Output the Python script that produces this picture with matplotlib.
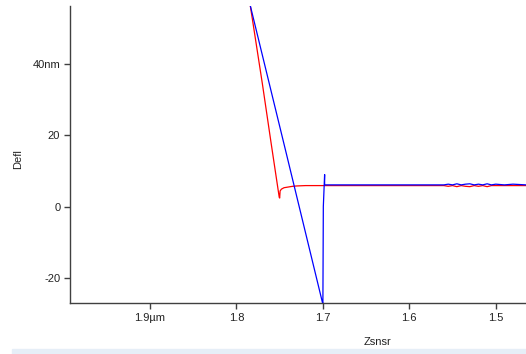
import numpy as np
import matplotlib.pyplot as plt
from matplotlib.patches import Rectangle

plt.rcParams['font.family'] = ['Liberation Sans', 'DejaVu Sans']

# retract curve (red), Zsnsr in um, Defl in nm
red_z = [1.784, 1.770, 1.760, 1.7505, 1.750, 1.7495, 1.748, 1.745, 1.740, 1.735,
         1.730, 1.720, 1.700, 1.560, 1.555, 1.550, 1.545, 1.540, 1.535, 1.530,
         1.525, 1.520, 1.515, 1.510, 1.505, 1.500, 1.465]
red_defl = [56.5, 34.5, 18.0, 2.6, 2.4, 4.4, 4.9, 5.3, 5.5, 5.7,
            5.8, 5.9, 5.9, 5.9, 5.7, 5.9, 5.6, 5.9, 5.7, 5.6,
            5.9, 5.7, 5.9, 5.6, 5.9, 5.9, 5.9]

# approach curve (blue)
blue_z = [1.784, 1.742, 1.7005, 1.700, 1.6995, 1.698, 1.698, 1.600, 1.560, 1.555,
          1.550, 1.545, 1.540, 1.535, 1.530, 1.525, 1.520, 1.515, 1.510, 1.505,
          1.500, 1.490, 1.480, 1.465]
blue_defl = [56.5, 14.6, -27.0, -27.2, 0.0, 9.0, 6.1, 6.1, 6.1, 6.3,
             6.1, 6.4, 6.1, 6.3, 6.4, 6.1, 6.3, 6.1, 6.4, 6.1,
             6.3, 6.1, 6.3, 6.1]

fig = plt.figure(figsize=(5.26, 3.54), dpi=100)
fig.patches.append(Rectangle((12 / 526, 0), 1, 5 / 354, transform=fig.transFigure,
                             color='#e6eef7', zorder=0))
ax = fig.add_axes([70 / 526, (354 - 303.3) / 354, 456 / 526, 297.3 / 354])

ax.plot(red_z, red_defl, color='#ff0000', lw=0.9)
ax.plot(blue_z, blue_defl, color='#0000ff', lw=0.9)

ax.set_xlim(1.9926, 1.465)
ax.set_ylim(-27.2, 56.4)

ax.set_xticks([1.9, 1.8, 1.7, 1.6, 1.5])
ax.set_xticklabels(['1.9µm', '1.8', '1.7', '1.6', '1.5'])
ax.set_yticks([40, 20, 0, -20])
ax.set_yticklabels(['40nm', '20', '0', '-20'])

for s in ['top', 'right']:
    ax.spines[s].set_visible(False)
for s in ['left', 'bottom']:
    ax.spines[s].set_color('#404040')
    ax.spines[s].set_linewidth(1.0)
ax.tick_params(direction='out', length=4, width=1, color='#404040',
               labelsize=8, labelcolor='#222222', pad=3)

ax.set_xlabel('Zsnsr', fontsize=8, color='#222222')
ax.xaxis.set_label_coords((378 - 70) / 456, -0.115)
ax.set_ylabel('Defl', fontsize=8, color='#222222')
ax.yaxis.set_label_coords((23 - 70) / 456, 0.485)

fig.savefig('out.png', dpi=100)
